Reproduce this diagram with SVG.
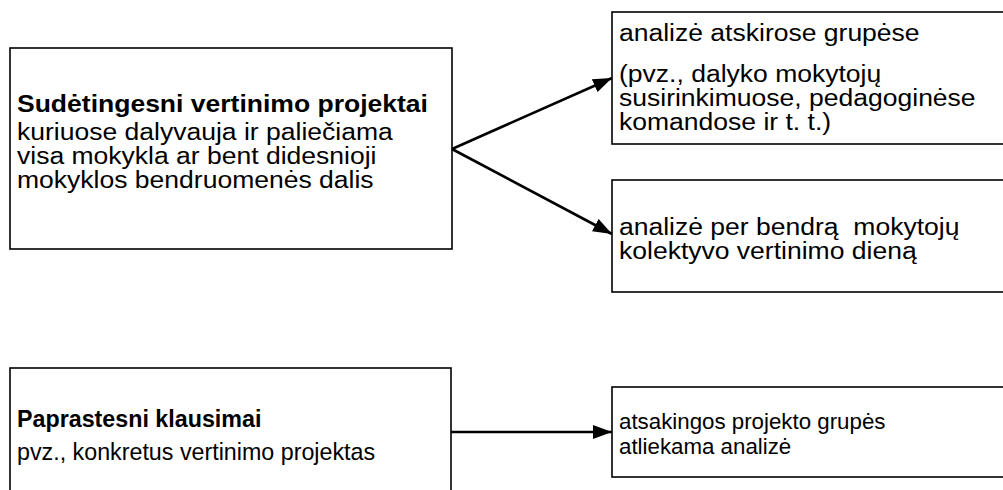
<svg xmlns="http://www.w3.org/2000/svg" width="1003" height="490" viewBox="0 0 1003 490">
<style>
.box{fill:#fff;stroke:#000;stroke-width:1.6}
.t{font-family:"Liberation Sans",Arial,sans-serif;font-size:23px;fill:#000}
.b{font-weight:bold}
.c{fill:none;stroke:#000;stroke-width:2.6}
</style>
<defs>
<marker id="ah" markerUnits="userSpaceOnUse" markerWidth="20" markerHeight="14" refX="19" refY="7" orient="auto">
<path d="M0,0 L19,7 L0,14 Z" fill="#000"/>
</marker>
</defs>
<rect width="1003" height="490" fill="#fff"/>
<g id="n1">
<rect class="box" x="10" y="48" width="442" height="201"/>
<g transform="translate(17,0) scale(1.153,1)">
<text class="t b" x="0" y="112">Sudėtingesni vertinimo projektai</text>
<text class="t" x="0" y="140">kuriuose dalyvauja ir paliečiama</text>
<text class="t" x="0" y="164">visa mokykla ar bent didesnioji</text>
<text class="t" x="0" y="188">mokyklos bendruomenės dalis</text>
</g>
</g>
<g id="n2">
<rect class="box" x="612" y="12" width="400" height="132"/>
<g transform="translate(619,0) scale(1.153,1)">
<text class="t" x="0" y="41">analizė atskirose grupėse</text>
<text class="t" x="0" y="82">(pvz., dalyko mokytojų</text>
<text class="t" x="0" y="106">susirinkimuose, pedagoginėse</text>
<text class="t" x="0" y="130">komandose ir t. t.)</text>
</g>
</g>
<g id="n3">
<rect class="box" x="612" y="180" width="400" height="112"/>
<g transform="translate(619,0) scale(1.153,1)">
<text class="t" x="0" y="235" xml:space="preserve">analizė per bendrą  mokytojų</text>
<text class="t" x="0" y="259">kolektyvo vertinimo dieną</text>
</g>
</g>
<g id="n4">
<rect class="box" x="10" y="368" width="441" height="140"/>
<g transform="translate(17,0) scale(0.97,1)">
<text class="t b" x="0" y="427" style="font-size:24px">Paprastesni klausimai</text>
<text class="t" x="0" y="460" style="font-size:24px">pvz., konkretus vertinimo projektas</text>
</g>
</g>
<g id="n5">
<rect class="box" x="612" y="387" width="400" height="90"/>
<g transform="translate(619,0) scale(0.97,1)">
<text class="t" x="0" y="429">atsakingos projekto grupės</text>
<text class="t" x="0" y="454">atliekama analizė</text>
</g>
</g>
<g id="connectors">
<line class="c" x1="452" y1="149" x2="612" y2="78" marker-end="url(#ah)"/>
<line class="c" x1="452" y1="149" x2="612" y2="234" marker-end="url(#ah)"/>
<line class="c" x1="451" y1="432" x2="612" y2="432" marker-end="url(#ah)"/>
</g>
</svg>
